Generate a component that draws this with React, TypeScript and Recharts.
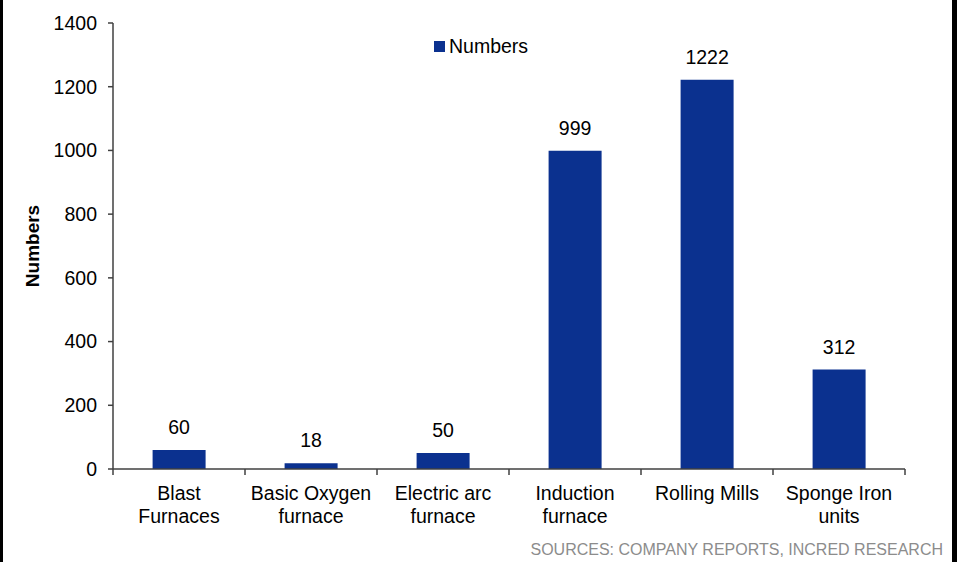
import React from 'react';
import { BarChart, Bar, XAxis, YAxis, LabelList } from 'recharts';

// Steel plant counts by unit type
const categories = [
  'Blast\nFurnaces',
  'Basic Oxygen\nfurnace',
  'Electric arc\nfurnace',
  'Induction\nfurnace',
  'Rolling Mills',
  'Sponge Iron\nunits',
];
const counts = [60, 18, 50, 999, 1222, 312];
const yTicks = [0, 200, 400, 600, 800, 1000, 1200, 1400];

const FONT = '"Liberation Sans", Arial, Helvetica, sans-serif';
const FS = 19.5;
const BAR_COLOR = '#0b318f';
const AXIS_COLOR = '#404040';

const data = categories.map((name, i) => ({ name, value: counts[i] }));

// multi-line category label, plus tick marks on the band edges
const CategoryTick = ({ x, y, payload, index, width, visibleTicksCount }: any) => {
  const lines = String(payload.value).split('\n');
  const half = width / visibleTicksCount / 2;
  const last = index === visibleTicksCount - 1;
  return (
    <g>
      <line x1={x - half} x2={x - half} y1={y} y2={y + 6} stroke={AXIS_COLOR} strokeWidth={1.5} />
      {last && <line x1={x + half} x2={x + half} y1={y} y2={y + 6} stroke={AXIS_COLOR} strokeWidth={1.5} />}
      <text x={x} y={y} textAnchor="middle" fill="#000" fontSize={FS} fontFamily={FONT}>
        {lines.map((ln, i) => (
          <tspan key={i} x={x} dy={i === 0 ? 31 : 23}>
            {ln}
          </tspan>
        ))}
      </text>
    </g>
  );
};

const AxisTitle = ({ viewBox }: any) => {
  const cx = viewBox.x + 39;
  const cy = viewBox.y + viewBox.height / 2;
  return (
    <text
      x={cx}
      y={cy}
      transform={`rotate(-90, ${cx}, ${cy})`}
      textAnchor="middle"
      fontSize={19}
      fontWeight="bold"
      fontFamily={FONT}
      fill="#000"
    >
      Numbers
    </text>
  );
};

export default function App() {
  return (
    <div style={{ position: 'absolute', left: 0, top: 0, width: 957, height: 562, background: '#fff' }}>
      <BarChart
        width={957}
        height={562}
        data={data}
        margin={{ top: 23, right: 52, left: 0, bottom: 0 }}
        barCategoryGap="30%"
      >
        <XAxis
          dataKey="name"
          height={93}
          interval={0}
          axisLine={{ stroke: AXIS_COLOR, strokeWidth: 1.5 }}
          tickLine={false}
          tickSize={0}
          tickMargin={0}
          tick={<CategoryTick />}
        />
        <YAxis
          width={113}
          domain={[0, 1400]}
          ticks={yTicks}
          interval={0}
          tickSize={5}
          tickMargin={11}
          axisLine={{ stroke: AXIS_COLOR, strokeWidth: 1.5 }}
          tickLine={{ stroke: AXIS_COLOR, strokeWidth: 1.5 }}
          tick={{ fill: '#000', fontSize: FS, fontFamily: FONT }}
          label={<AxisTitle />}
        />
        <Bar dataKey="value" name="Numbers" fill={BAR_COLOR} isAnimationActive={false}>
          <LabelList dataKey="value" position="top" offset={16} fill="#000" fontSize={FS} fontFamily={FONT} />
        </Bar>
      </BarChart>
      {/* legend */}
      <div
        style={{
          position: 'absolute',
          left: 434,
          top: 35,
          display: 'flex',
          alignItems: 'center',
          fontFamily: FONT,
          fontSize: FS,
          color: '#000',
        }}
      >
        <span style={{ width: 11, height: 11, background: BAR_COLOR, display: 'inline-block', marginRight: 4 }} />
        <span>Numbers</span>
      </div>
      <div
        style={{
          position: 'absolute',
          right: 14,
          top: 541,
          fontFamily: FONT,
          fontSize: 16,
          color: '#8c8c8c',
          whiteSpace: 'nowrap',
        }}
      >
        SOURCES: COMPANY REPORTS, INCRED RESEARCH
      </div>
      <div style={{ position: 'absolute', left: 0, top: 0, width: 3, height: 562, background: '#000' }} />
      <div style={{ position: 'absolute', right: 0, top: 0, width: 5, height: 562, background: '#000' }} />
    </div>
  );
}
